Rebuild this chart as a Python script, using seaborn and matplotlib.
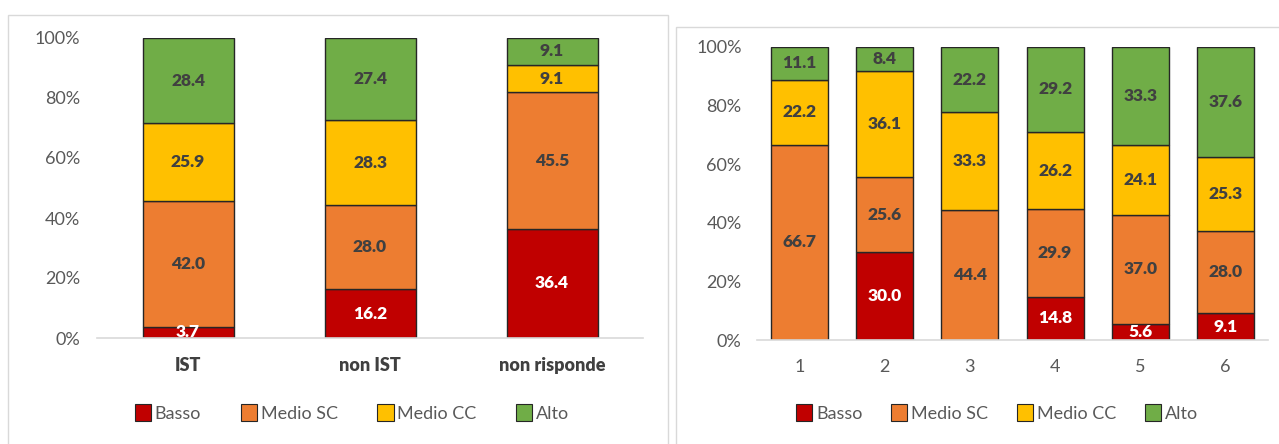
import matplotlib
matplotlib.use("Agg")
import matplotlib.pyplot as plt
import seaborn as sns
import numpy as np
from matplotlib.patches import Rectangle, Patch

# ---- data ----
series_names = ["Basso", "Medio SC", "Medio CC", "Alto"]
colors = ["#C00000", "#ED7D31", "#FFC000", "#70AD47"]

left_cats = ["IST", "non IST", "non risponde"]
left_basso = [3.7, 16.2, 36.4]
left_medio_sc = [42.0, 28.0, 45.5]
left_medio_cc = [25.9, 28.3, 9.1]
left_alto = [28.4, 27.4, 9.1]

right_cats = ["1", "2", "3", "4", "5", "6"]
right_basso = [0.0, 30.0, 0.0, 14.8, 5.6, 9.1]
right_medio_sc = [66.7, 25.6, 44.4, 29.9, 37.0, 28.0]
right_medio_cc = [22.2, 36.1, 33.3, 26.2, 24.1, 25.3]
right_alto = [11.1, 8.4, 22.2, 29.2, 33.3, 37.6]

sns.set_theme(style="white")
plt.rcParams["font.family"] = ["Lato", "DejaVu Sans"]

W, H = 1279, 444
fig = plt.figure(figsize=(W / 100, H / 100), dpi=100)

# panel borders
fig.patches.append(Rectangle((8 / W, -0.1), (668 - 8) / W, 1.1 - 15 / H,
                             transform=fig.transFigure, fill=False,
                             edgecolor="#d9d9d9", linewidth=1.0))
fig.patches.append(Rectangle((676 / W, -0.1), 0.6, 1.1 - 27 / H,
                             transform=fig.transFigure, fill=False,
                             edgecolor="#d9d9d9", linewidth=1.0))


def draw(ax, cats, series, width, bold_x, tick_pad):
    bottom = np.zeros(len(cats))
    for name, vals, col in zip(series_names, series, colors):
        vals = np.array(vals, dtype=float)
        sns.barplot(x=cats, y=vals, bottom=bottom, color=col, width=width,
                    edgecolor="#262626", linewidth=1.0, ax=ax,
                    saturation=1, label=name, order=cats)
        for i, v in enumerate(vals):
            if v <= 0:
                continue
            tcol = "white" if name == "Basso" else "#404040"
            ax.text(i, bottom[i] + v / 2, f"{v:.1f}", ha="center",
                    va="center", fontsize=12.5, fontweight="heavy", color=tcol,
                    clip_on=False)
        bottom = bottom + vals
    ax.set_ylim(0, 100)
    ax.set_xlim(-0.5, len(cats) - 0.5)
    ax.set_yticks(range(0, 101, 20))
    ax.set_yticklabels([f"{t}%" for t in range(0, 101, 20)])
    ax.tick_params(axis="y", length=0, pad=tick_pad, labelsize=13,
                   labelcolor="#595959")
    ax.tick_params(axis="x", length=0, pad=14, labelsize=13,
                   labelcolor="#404040" if bold_x else "#595959")
    if bold_x:
        for lab in ax.get_xticklabels():
            lab.set_fontweight("heavy")
    for s in ["top", "right", "left"]:
        ax.spines[s].set_visible(False)
    ax.spines["bottom"].set_color("#d9d9d9")
    ax.spines["bottom"].set_linewidth(1.2)
    ax.set_xlabel("")
    ax.set_ylabel("")
    ax.grid(False)
    ax.set_facecolor("none")
    lg = ax.get_legend()
    if lg:
        lg.remove()


axL = fig.add_axes([97 / W, (H - 338) / H, (643 - 97) / W, 300 / H])
draw(axL, left_cats, [left_basso, left_medio_sc, left_medio_cc, left_alto],
     0.5, True, 12)
axR = fig.add_axes([757 / W, (H - 340) / H, (1268 - 757) / W, 293 / H])
draw(axR, right_cats, [right_basso, right_medio_sc, right_medio_cc, right_alto],
     0.67, False, 11)

handles = [Patch(facecolor=c, edgecolor="#262626", linewidth=0.8)
           for c in colors]
for cx, cs in ((352 / W, 2.2), (997 / W, 1.6)):
    fig.legend(handles, series_names, loc="center",
               bbox_to_anchor=(cx, (H - 413) / H), ncol=4, frameon=False,
               fontsize=13, labelcolor="#595959", handlelength=0.9,
               handleheight=1.1, handletextpad=0.2, columnspacing=cs)

fig.savefig("out.png", dpi=100)
